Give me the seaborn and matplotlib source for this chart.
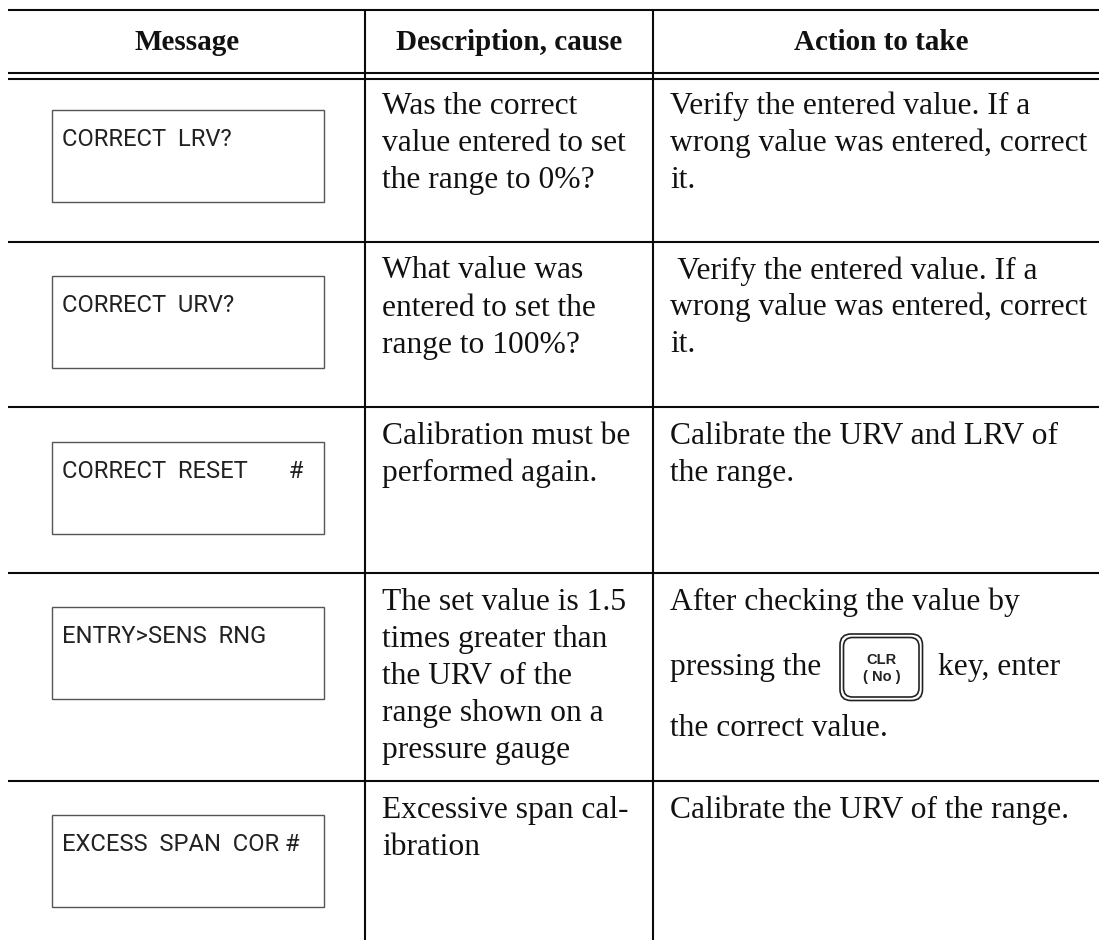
import matplotlib
matplotlib.use("Agg")
import matplotlib.pyplot as plt
from matplotlib.patches import Rectangle, FancyBboxPatch
import seaborn as sns

sns.set_theme(style="white")
plt.rcParams['font.family'] = ['Liberation Serif', 'DejaVu Serif']

# --- content ---
headers = ["Message", "Description, cause", "Action to take"]
messages = ["CORRECT  LRV?", "CORRECT  URV?", "CORRECT  RESET       #", "ENTRY>SENS  RNG", "EXCESS  SPAN  COR #"]
descriptions = [
    ["Was the correct", "value entered to set", "the range to 0%?"],
    ["What value was", "entered to set the", "range to 100%?"],
    ["Calibration must be", "performed again."],
    ["The set value is 1.5", "times greater than", "the URV of the", "range shown on a", "pressure gauge"],
    ["Excessive span cal-", "ibration"],
]
actions = [
    ["Verify the entered value. If a", "wrong value was entered, correct", "it."],
    [" Verify the entered value. If a", "wrong value was entered, correct", "it."],
    ["Calibrate the URV and LRV of", "the range."],
    ["After checking the value by"],
    ["Calibrate the URV of the range."],
]
press_text = "pressing the"
key_text = "key, enter"
last_text = "the correct value."
key_label = ["CLR", "( No )"]

# --- layout (pixels) ---
W, H = 1099, 940
header_x = [187, 509, 881]
col_lines = [365, 653]
row_lines = [242, 407, 573, 781]
box_tops = [110, 276, 442, 607, 815]
baselines = [114, 278.5, 444, 610, 818]
line_h = 37

fig = plt.figure(figsize=(W/100, H/100), dpi=100, facecolor="white")
ax = fig.add_axes([0, 0, 1, 1])
ax.set_xlim(0, W); ax.set_ylim(H, 0); ax.axis("off")

lc = "#0a0a0a"
for y in [10, 73, 79] + row_lines:
    ax.plot([8, W], [y, y], color=lc, lw=1.5, solid_capstyle="butt")
for x in col_lines:
    ax.plot([x, x], [9, H], color=lc, lw=1.5, solid_capstyle="butt")

for h, x in zip(headers, header_x):
    ax.text(x, 50, h, ha="center", va="baseline", fontsize=21, fontweight="bold", color="#111111")

for m, t in zip(messages, box_tops):
    ax.add_patch(Rectangle((51.5, t), 272, 91.5, fill=False, ec="#555555", lw=1.0))
    ax.text(62, t + 36, m, ha="left", va="baseline", fontsize=17.1, color="#222222",
            family="Roboto")

FS = 22.7
for lines, b in zip(descriptions, baselines):
    for i, s in enumerate(lines):
        ax.text(382.5, b + i*line_h, s, ha="left", va="baseline", fontsize=FS, color="#111111")
for lines, b in zip(actions, baselines):
    for i, s in enumerate(lines):
        ax.text(670, b + i*line_h, s, ha="left", va="baseline", fontsize=FS, color="#111111")

ax.text(670, 675, press_text, ha="left", va="baseline", fontsize=FS, color="#111111")
ax.text(937.5, 675, key_text, ha="left", va="baseline", fontsize=FS, color="#111111")
ax.text(670, 736, last_text, ha="left", va="baseline", fontsize=FS, color="#111111")

ax.add_patch(FancyBboxPatch((840, 634), 82.5, 66.5, boxstyle="round,pad=0,rounding_size=11",
                            fill=False, ec="#222222", lw=1.2))
ax.add_patch(FancyBboxPatch((843.5, 637.5), 75.5, 59.5, boxstyle="round,pad=0,rounding_size=9",
                            fill=False, ec="#222222", lw=1.2))
ax.text(881.5, 660, key_label[0], ha="center", va="center", fontsize=10.5, fontweight="bold",
        family="Liberation Sans", color="#222222")
ax.text(881.5, 677, key_label[1], ha="center", va="center", fontsize=10.5, fontweight="bold",
        family="Liberation Sans", color="#222222")

fig.savefig("out.png", dpi=100, facecolor="white")
